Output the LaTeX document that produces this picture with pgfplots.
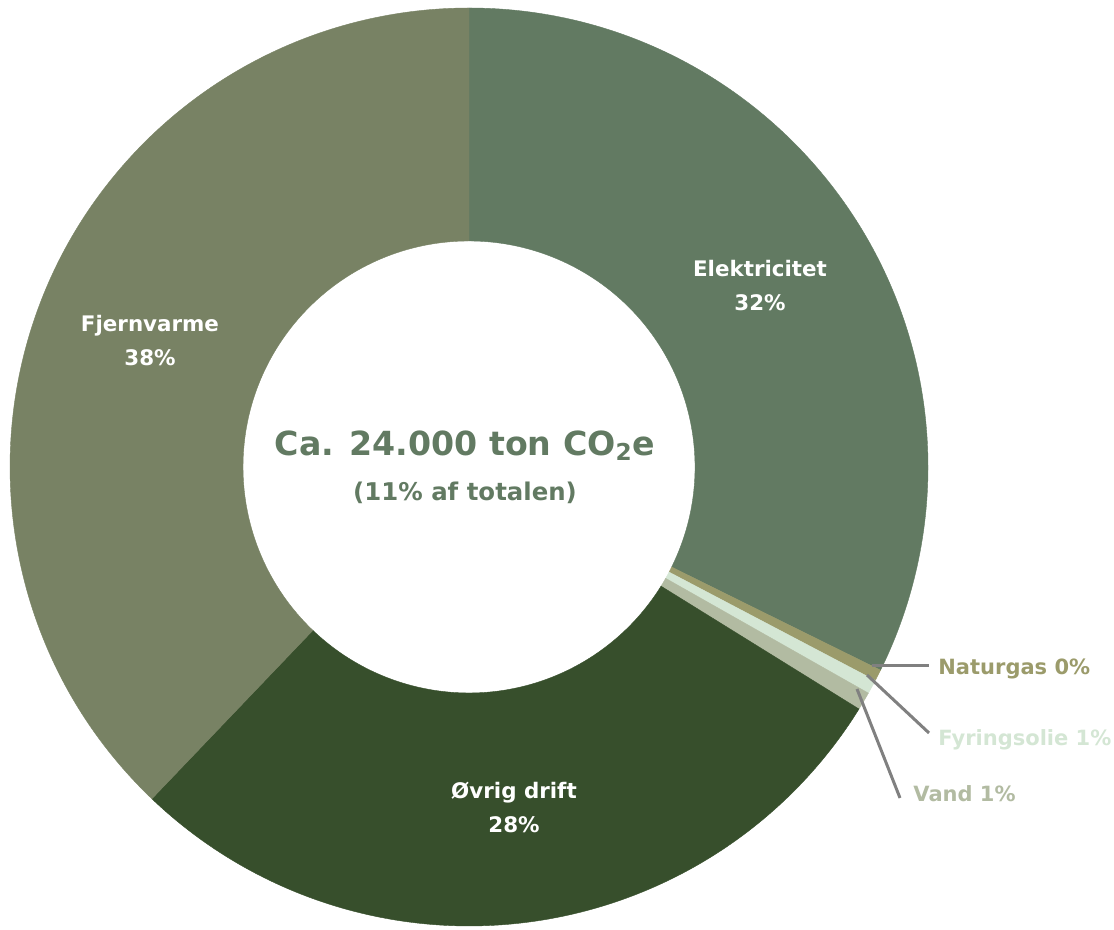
\documentclass[border=0pt]{standalone}
\usepackage{pgfplots}
\pgfplotsset{compat=1.18}
\usepackage{pgfplotstable}
\usepackage{fontspec}
\setmainfont{DejaVu Sans}
\definecolor{c0}{HTML}{627A62}
\definecolor{c1}{HTML}{9B9B6B}
\definecolor{c2}{HTML}{D4E6D4}
\definecolor{c3}{HTML}{B2BBA2}
\definecolor{c4}{HTML}{374F2C}
\definecolor{c5}{HTML}{788264}
\definecolor{leader}{HTML}{808080}
\pgfplotstableread{
name value
Elektricitet 32.3
Naturgas 0.4
Fyringsolie 0.5
Vand 0.64
Ovrig 28.3
Fjernvarme 37.86
}\slices
\newcommand\lab{\fontsize{10.7bp}{13bp}\selectfont\bfseries}
\newcommand\side{\fontsize{10.5bp}{13bp}\selectfont\bfseries}
\begin{document}
\begin{tikzpicture}
\begin{axis}[
  width=557bp, height=465bp, scale only axis,
  xmin=0, xmax=1114, ymin=0, ymax=930,
  hide axis, clip=false,
]
\pgfplotsextra{
  \xdef\angstart{90}
  \foreach \i in {0,...,5}{
    \pgfplotstablegetelem{\i}{value}\of\slices
    \pgfmathsetmacro\angend{\angstart-3.6*\pgfplotsretval}
    \fill[c\i, draw=c\i, line width=0.2bp] (axis cs:469,463) ++(\angstart:229.5bp)
      arc[start angle=\angstart, end angle=\angend, radius=229.5bp]
      -- ++(\angend:-116.5bp)
      arc[start angle=\angend, end angle=\angstart, radius=113bp] -- cycle;
    \xdef\angstart{\angend}
  }
}
% slice labels
\node[anchor=base, white, font=\lab] at (axis cs:760,653) {Elektricitet};
\node[anchor=base, white, font=\lab] at (axis cs:760,619) {32\%};
\node[anchor=base, white, font=\lab] at (axis cs:150,598) {Fjernvarme};
\node[anchor=base, white, font=\lab] at (axis cs:150,564.5) {38\%};
\node[anchor=base, white, font=\lab] at (axis cs:514,131) {Øvrig drift};
\node[anchor=base, white, font=\lab] at (axis cs:514,97) {28\%};
% centre text
\node[anchor=base, c0, font=\fontsize{16.6bp}{20bp}\selectfont\bfseries] at (axis cs:465,474.5) {Ca. 24.000 ton CO\textsubscript{2}e};
\node[anchor=base, c0, font=\fontsize{12.2bp}{14bp}\selectfont\bfseries] at (axis cs:465,429.5) {(11\% af totalen)};
% leader lines
\draw[leader, line width=1.5bp] (axis cs:872,264) -- (axis cs:929,264);
\draw[leader, line width=1.5bp] (axis cs:867,255) -- (axis cs:929,197);
\draw[leader, line width=1.5bp] (axis cs:857,241) -- (axis cs:900,132);
\node[anchor=base west, c1, font=\side, inner sep=0pt] at (axis cs:938,255) {Naturgas 0\%};
\node[anchor=base west, c2, font=\side, inner sep=0pt] at (axis cs:938,184.5) {Fyringsolie 1\%};
\node[anchor=base west, c3, font=\side, inner sep=0pt] at (axis cs:913,128) {Vand 1\%};
\end{axis}
\pgfresetboundingbox
\path[use as bounding box] (current axis.south west) rectangle (current axis.north east);
\end{tikzpicture}
\end{document}
